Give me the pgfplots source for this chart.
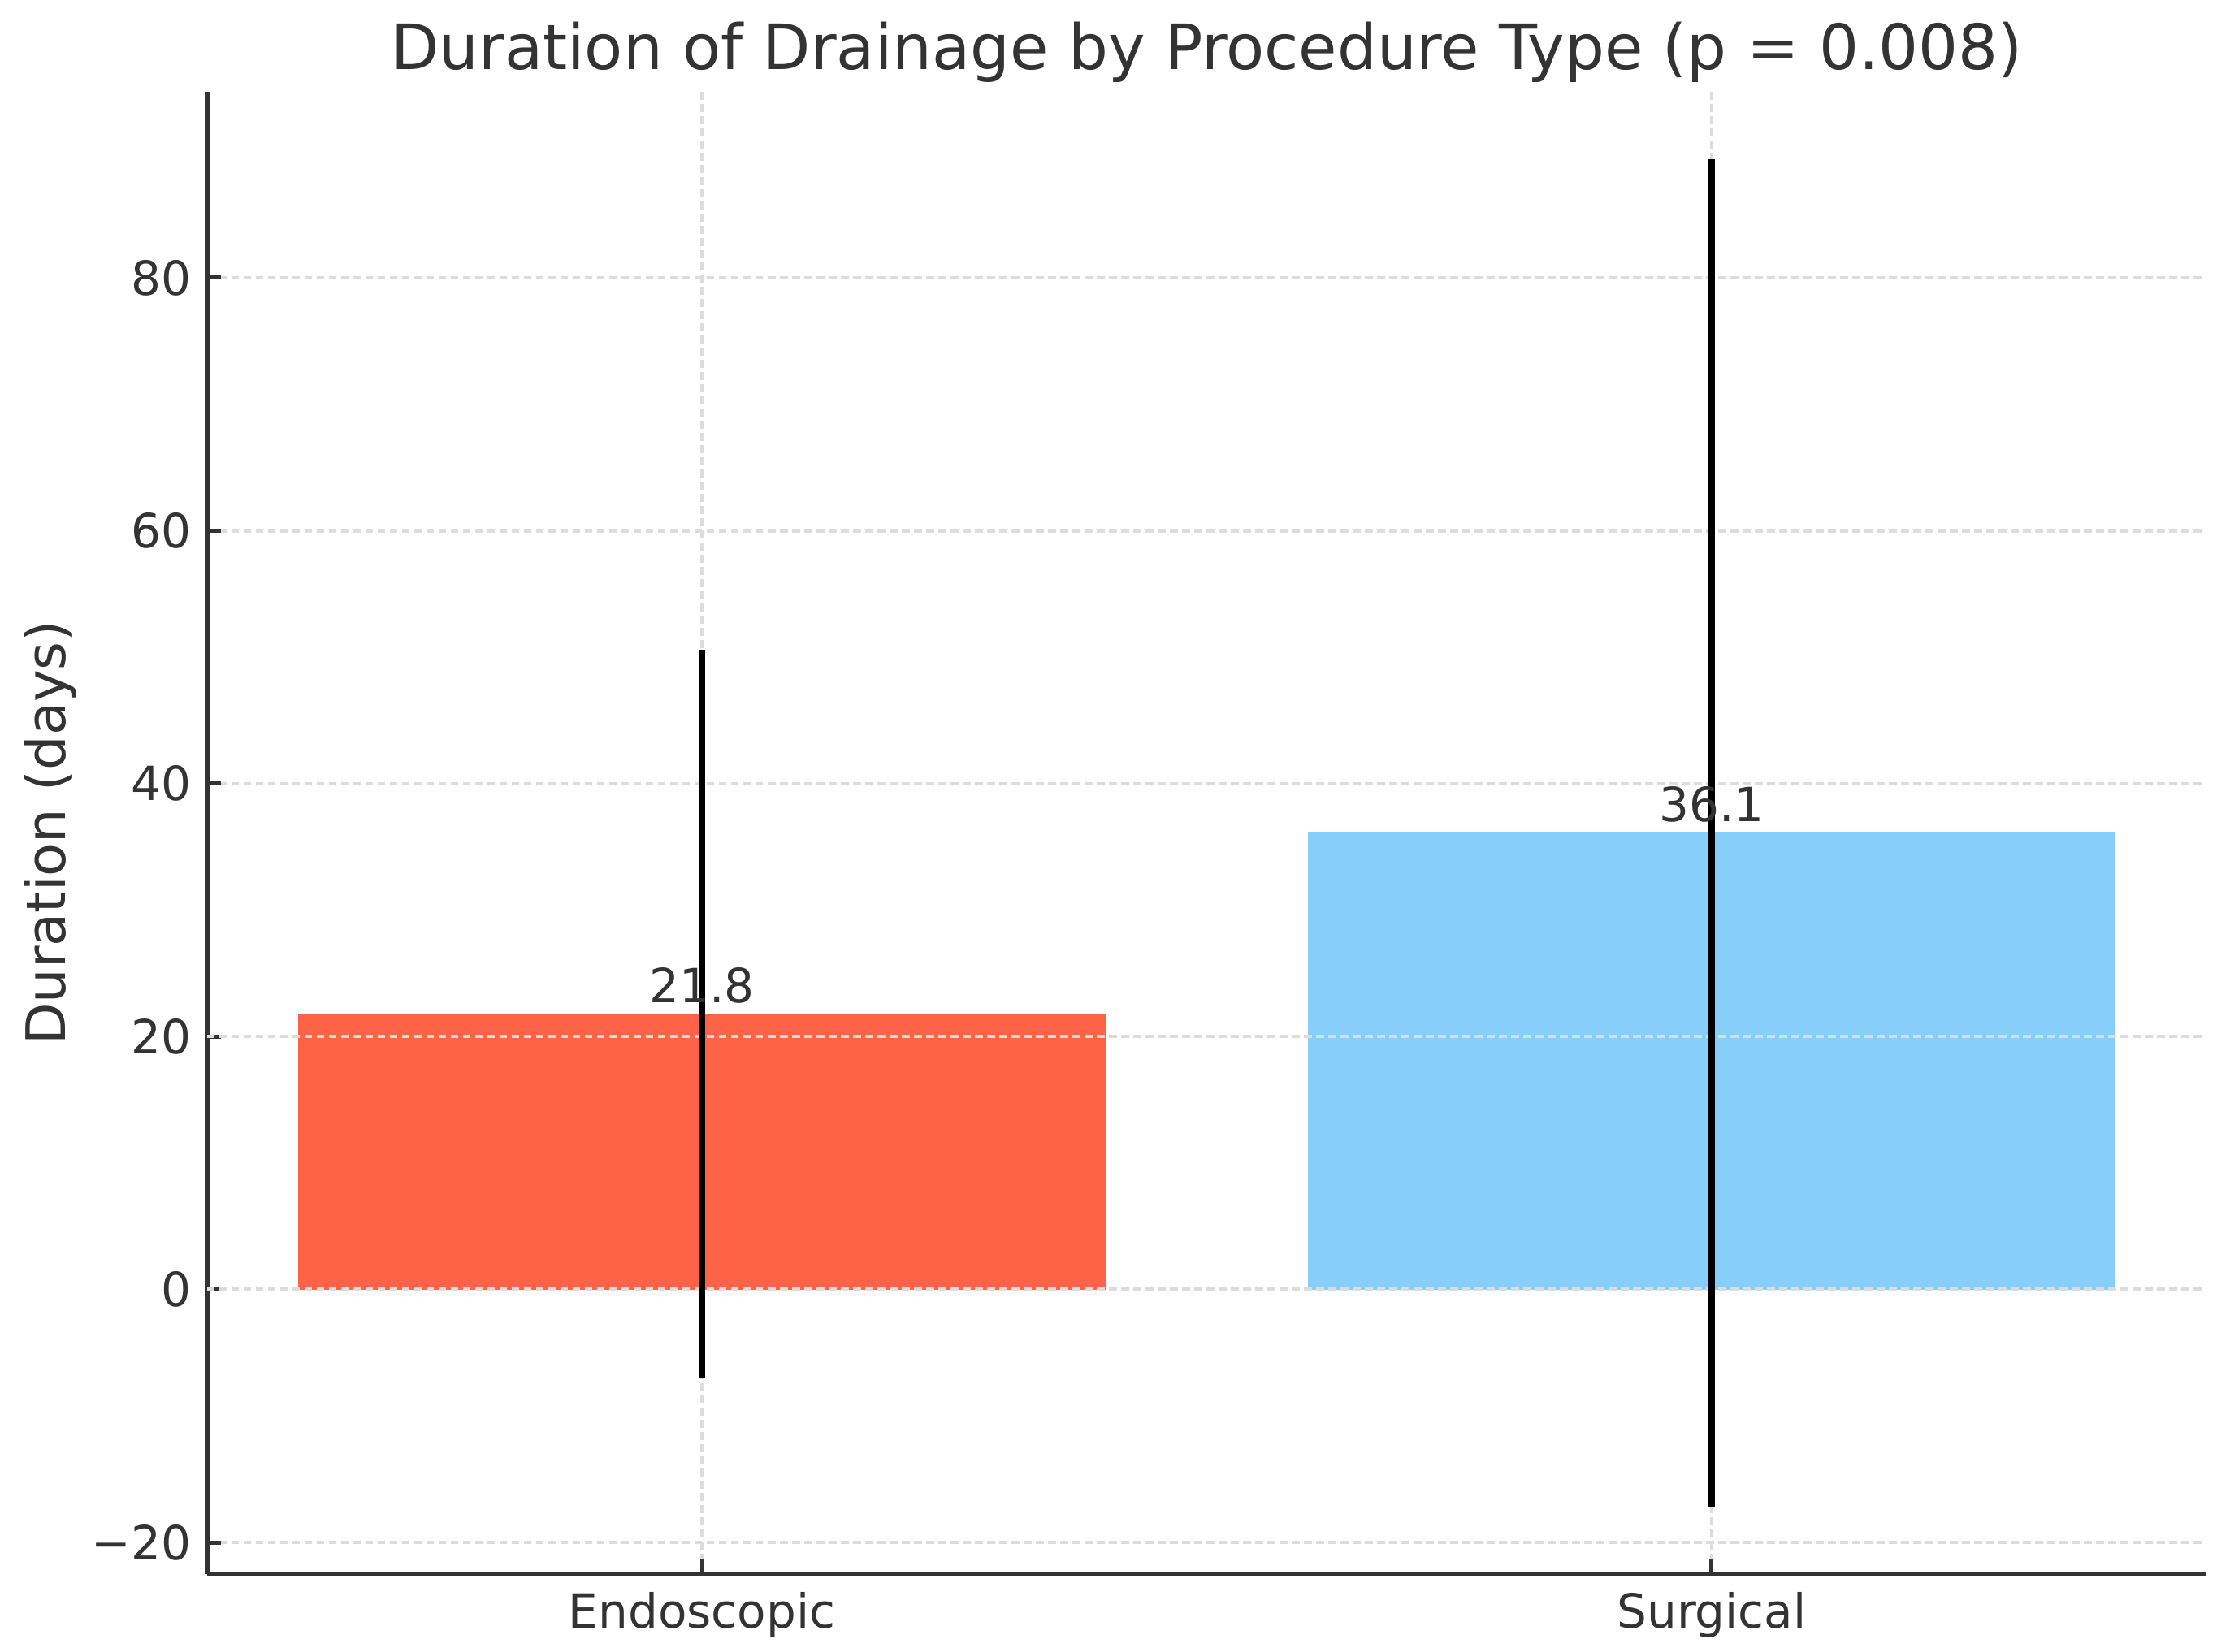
\documentclass[border=0pt]{standalone}
\usepackage{fontspec}
\setmainfont{DejaVu Sans}
\usepackage{pgfplots}
\pgfplotsset{compat=1.18}
\definecolor{tomatoc}{HTML}{FF6347}
\definecolor{skyc}{HTML}{87CEFA}
\definecolor{txt}{HTML}{333333}
\definecolor{gridc}{HTML}{DCDCDC}
\begin{document}
\begin{tikzpicture}
\path[use as bounding box] (-51pt,-19.2pt) rectangle (498pt,387.6pt);
\begin{axis}[
  at={(0,0)}, anchor=south west,
  scale only axis, width=492.2pt, height=365pt,
  xmin=-0.49, xmax=1.49, ymin=-22.5, ymax=94.7,
  axis x line*=bottom, axis y line*=left,
  axis line style={draw=txt, line width=1.2pt},
  tick align=inside, major tick length=3.5pt,
  tick style={draw=txt, line width=1pt},
  xtick={0,1}, xticklabels={Endoscopic,Surgical},
  ytick={-20,0,20,40,60,80}, yticklabels={−20,0,20,40,60,80},
  xticklabel style={anchor=base, inner sep=0pt, yshift=-13.4pt, font=\fontsize{11.6}{14}\selectfont, text=txt},
  yticklabel style={anchor=east, inner sep=0pt, xshift=-3.8pt, font=\fontsize{11.6}{14}\selectfont, text=txt},
  grid=major,
  grid style={draw=gridc, line width=0.9pt, dash pattern=on 1.9pt off 1.1pt},
  title={Duration of Drainage by Procedure Type (p = 0.008)},
  every axis title shift=0pt,
  title style={at={(0.5,1)}, anchor=base, yshift=5.5pt, inner sep=0pt, font=\fontsize{15.4}{19}\selectfont, text=txt},
  ylabel={Duration (days)},
  ylabel style={at={(axis description cs:-0.0711,0.5)}, anchor=base, inner sep=0pt, font=\fontsize{13.4}{17}\selectfont, text=txt},
]
\addplot[ybar, bar width=0.8, bar shift=0pt, fill=tomatoc, draw=none] coordinates {(0,21.8)};
\addplot[ybar, bar width=0.8, bar shift=0pt, fill=skyc, draw=none] coordinates {(1,36.1)};
\draw[gridc, line width=0.9pt, dash pattern=on 1.9pt off 1.1pt] (axis cs:-0.49,0) -- (axis cs:1.49,0);
\draw[gridc, line width=0.9pt, dash pattern=on 1.9pt off 1.1pt] (axis cs:-0.49,20) -- (axis cs:1.49,20);
\addplot[draw=none, mark=none, nodes near coords, point meta=explicit symbolic,
  nodes near coords style={anchor=base, yshift=2.8pt, inner sep=0pt, font=\fontsize{11.6}{14}\selectfont, text=txt}]
  coordinates {(0,21.8) [21.8] (1,36.1) [36.1]};
\addplot[draw=none, mark=none,
  error bars/.cd, y dir=both, y explicit, error mark=none,
  error bar style={draw=black, line width=1.5pt, solid}]
  coordinates {(0,21.8) +- (0,28.8) (1,36.1) +- (0,53.3)};
\end{axis}
\end{tikzpicture}
\end{document}
